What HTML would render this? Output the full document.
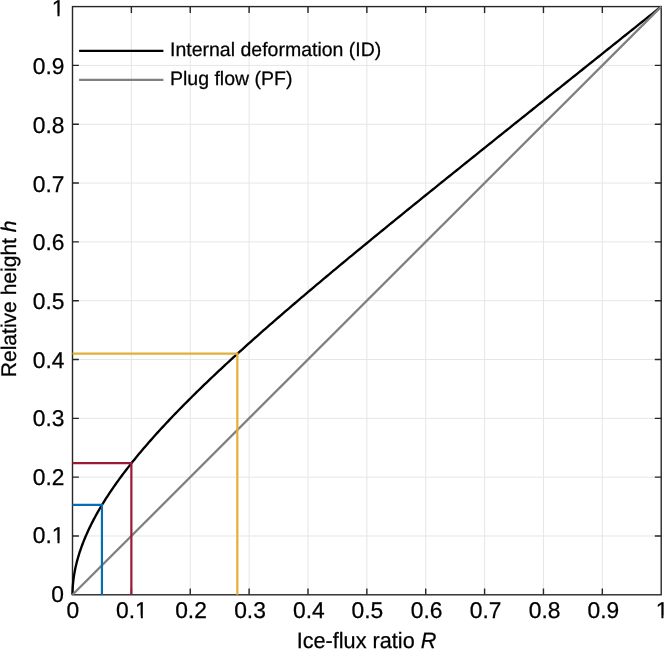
<!DOCTYPE html>
<html><head><meta charset="utf-8"><title>Ice-flux ratio</title>
<style>html,body{margin:0;padding:0;background:#fff;}body{width:664px;height:649px;position:relative;overflow:hidden;font-family:"Liberation Sans",sans-serif;}</style>
</head><body>
<svg width="664" height="649" viewBox="0 0 664 649" style="position:absolute;left:0;top:0;will-change:transform">
<rect width="664" height="649" fill="#fff"/>
<defs><clipPath id="c1_0"><rect x="133.09" y="595.20" width="17.68" height="20.40"/><rect x="140.82" y="615.30" width="2.02" height="3.70"/></clipPath><clipPath id="c1_1"><rect x="49.77" y="520.20" width="17.68" height="20.40"/><rect x="57.51" y="540.30" width="2.02" height="3.70"/></clipPath><clipPath id="c1_2"><rect x="653.70" y="595.20" width="17.68" height="20.40"/><rect x="661.43" y="615.30" width="2.02" height="3.70"/></clipPath><clipPath id="c1_3"><rect x="49.77" y="-6.80" width="17.68" height="20.40"/><rect x="57.51" y="13.30" width="2.02" height="3.70"/></clipPath></defs>
<path d="M131.37 6.60V594.80M72.50 535.98H661.20M190.24 6.60V594.80M72.50 477.16H661.20M249.11 6.60V594.80M72.50 418.34H661.20M307.98 6.60V594.80M72.50 359.52H661.20M366.85 6.60V594.80M72.50 300.70H661.20M425.72 6.60V594.80M72.50 241.88H661.20M484.59 6.60V594.80M72.50 183.06H661.20M543.46 6.60V594.80M72.50 124.24H661.20M602.33 6.60V594.80M72.50 65.42H661.20" stroke="#e6e6e6" stroke-width="1" fill="none"/>
<rect x="72.50" y="6.60" width="588.70" height="588.20" stroke="#262626" stroke-width="1.4" fill="none"/>
<path d="M131.37 594.80v-6.4M131.37 6.60v6.4M72.50 535.98h6.4M661.20 535.98h-6.4M190.24 594.80v-6.4M190.24 6.60v6.4M72.50 477.16h6.4M661.20 477.16h-6.4M249.11 594.80v-6.4M249.11 6.60v6.4M72.50 418.34h6.4M661.20 418.34h-6.4M307.98 594.80v-6.4M307.98 6.60v6.4M72.50 359.52h6.4M661.20 359.52h-6.4M366.85 594.80v-6.4M366.85 6.60v6.4M72.50 300.70h6.4M661.20 300.70h-6.4M425.72 594.80v-6.4M425.72 6.60v6.4M72.50 241.88h6.4M661.20 241.88h-6.4M484.59 594.80v-6.4M484.59 6.60v6.4M72.50 183.06h6.4M661.20 183.06h-6.4M543.46 594.80v-6.4M543.46 6.60v6.4M72.50 124.24h6.4M661.20 124.24h-6.4M602.33 594.80v-6.4M602.33 6.60v6.4M72.50 65.42h6.4M661.20 65.42h-6.4" stroke="#262626" stroke-width="1.4" fill="none"/>
<path d="M72.50 594.80L72.50 594.60L72.50 594.40L72.50 594.20L72.50 594.00L72.50 593.80L72.51 593.60L72.51 593.40L72.51 593.20L72.51 593.01L72.52 592.81L72.52 592.61L72.52 592.41L72.53 592.21L72.53 592.01L72.54 591.81L72.54 591.61L72.55 591.41L72.55 591.21L72.56 591.01L72.57 590.81L72.57 590.61L72.58 590.41L72.59 590.21L72.60 590.01L72.60 589.82L72.61 589.62L72.62 589.42L72.63 589.22L72.64 589.02L72.65 588.82L72.66 588.62L72.67 588.42L72.68 588.22L72.69 588.02L72.70 587.82L72.72 587.62L72.73 587.42L72.74 587.22L72.75 587.02L72.77 586.82L72.78 586.63L72.79 586.43L72.81 586.23L72.82 586.03L72.84 585.83L72.85 585.63L72.87 585.43L72.88 585.23L72.90 585.03L72.92 584.83L72.93 584.63L72.95 584.43L72.97 584.23L72.98 584.03L73.00 583.83L73.02 583.63L73.04 583.43L73.06 583.24L73.08 583.04L73.28 581.11L73.51 579.18L73.77 577.25L74.06 575.32L74.38 573.40L74.73 571.47L75.10 569.54L75.50 567.61L75.93 565.69L76.39 563.76L76.87 561.83L77.38 559.90L77.92 557.97L78.48 556.05L79.07 554.12L79.68 552.19L80.32 550.26L80.99 548.33L81.68 546.41L82.39 544.48L83.13 542.55L83.89 540.62L84.67 538.69L85.48 536.77L86.31 534.84L87.17 532.91L88.04 530.98L88.94 529.06L89.87 527.13L90.81 525.20L91.77 523.27L92.76 521.34L93.77 519.42L94.80 517.49L95.85 515.56L96.92 513.63L98.01 511.70L99.12 509.78L100.25 507.85L101.40 505.92L102.57 503.99L103.76 502.07L104.96 500.14L106.19 498.21L107.43 496.28L108.69 494.35L109.97 492.43L111.27 490.50L112.59 488.57L113.92 486.64L115.27 484.71L116.64 482.79L118.02 480.86L119.43 478.93L120.84 477.00L122.28 475.07L123.73 473.15L125.19 471.22L126.67 469.29L128.17 467.36L129.68 465.44L131.20 463.51L132.75 461.58L134.30 459.65L135.87 457.72L137.46 455.80L139.05 453.87L140.67 451.94L142.29 450.01L143.93 448.08L145.59 446.16L147.25 444.23L148.93 442.30L150.62 440.37L152.33 438.45L154.05 436.52L155.78 434.59L157.52 432.66L159.27 430.73L161.04 428.81L162.82 426.88L164.60 424.95L166.40 423.02L168.22 421.09L170.04 419.17L171.87 417.24L173.72 415.31L175.57 413.38L177.44 411.45L179.31 409.53L181.20 407.60L183.09 405.67L185.00 403.74L186.92 401.82L188.84 399.89L190.78 397.96L192.72 396.03L194.67 394.10L196.63 392.18L198.61 390.25L200.59 388.32L202.57 386.39L204.57 384.46L206.58 382.54L208.59 380.61L210.61 378.68L212.64 376.75L214.68 374.83L216.72 372.90L218.78 370.97L220.84 369.04L222.90 367.11L224.98 365.19L227.06 363.26L229.15 361.33L231.25 359.40L233.35 357.47L235.46 355.55L237.58 353.62L239.70 351.69L241.83 349.76L243.97 347.83L246.11 345.91L248.25 343.98L250.41 342.05L252.57 340.12L254.73 338.20L256.90 336.27L259.08 334.34L261.26 332.41L263.45 330.48L265.64 328.56L267.84 326.63L270.04 324.70L272.25 322.77L274.47 320.84L276.68 318.92L278.91 316.99L281.13 315.06L283.37 313.13L285.60 311.20L287.84 309.28L290.09 307.35L292.34 305.42L294.59 303.49L296.85 301.57L299.11 299.64L301.37 297.71L303.64 295.78L305.92 293.85L308.19 291.93L310.47 290.00L312.76 288.07L315.04 286.14L317.33 284.21L319.63 282.29L321.92 280.36L324.22 278.43L326.53 276.50L328.83 274.58L331.14 272.65L333.46 270.72L335.77 268.79L338.09 266.86L340.41 264.94L342.73 263.01L345.06 261.08L347.39 259.15L349.72 257.22L352.05 255.30L354.39 253.37L356.73 251.44L359.07 249.51L361.41 247.58L363.76 245.66L366.10 243.73L368.45 241.80L370.80 239.87L373.16 237.95L375.51 236.02L377.87 234.09L380.23 232.16L382.59 230.23L384.95 228.31L387.32 226.38L389.68 224.45L392.05 222.52L394.42 220.59L396.79 218.67L399.16 216.74L401.53 214.81L403.91 212.88L406.28 210.96L408.66 209.03L411.04 207.10L413.42 205.17L415.80 203.24L418.18 201.32L420.57 199.39L422.95 197.46L425.34 195.53L427.72 193.60L430.11 191.68L432.50 189.75L434.89 187.82L437.28 185.89L439.67 183.96L442.06 182.04L444.46 180.11L446.85 178.18L449.25 176.25L451.64 174.33L454.04 172.40L456.44 170.47L458.83 168.54L461.23 166.61L463.63 164.69L466.03 162.76L468.43 160.83L470.83 158.90L473.23 156.97L475.63 155.05L478.04 153.12L480.44 151.19L482.84 149.26L485.25 147.34L487.65 145.41L490.06 143.48L492.46 141.55L494.87 139.62L497.27 137.70L499.68 135.77L502.08 133.84L504.49 131.91L506.90 129.98L509.31 128.06L511.71 126.13L514.12 124.20L516.53 122.27L518.94 120.34L521.35 118.42L523.76 116.49L526.16 114.56L528.57 112.63L530.98 110.71L533.39 108.78L535.80 106.85L538.21 104.92L540.62 102.99L543.03 101.07L545.44 99.14L547.85 97.21L550.26 95.28L552.67 93.35L555.09 91.43L557.50 89.50L559.91 87.57L562.32 85.64L564.73 83.72L567.14 81.79L569.55 79.86L571.96 77.93L574.38 76.00L576.79 74.08L579.20 72.15L581.61 70.22L584.02 68.29L586.43 66.36L588.84 64.44L591.26 62.51L593.67 60.58L596.08 58.65L598.49 56.72L600.90 54.80L603.31 52.87L605.73 50.94L608.14 49.01L610.55 47.09L612.96 45.16L615.37 43.23L617.79 41.30L620.20 39.37L622.61 37.45L625.02 35.52L627.43 33.59L629.85 31.66L632.26 29.73L634.67 27.81L637.08 25.88L639.49 23.95L641.90 22.02L644.32 20.10L646.73 18.17L649.14 16.24L651.55 14.31L653.96 12.38L656.38 10.46L658.79 8.53L661.20 6.60" stroke="#000" stroke-width="2.35" fill="none" stroke-linejoin="round"/>
<path d="M72.50 594.80L661.20 6.60" stroke="#808080" stroke-width="2.3" fill="none"/>
<path d="M101.94 594.80V504.90H72.50" stroke="#0A6BB0" stroke-width="2.2" fill="none"/>
<path d="M131.37 594.80V463.20H72.50" stroke="#9A1A36" stroke-width="2.2" fill="none"/>
<path d="M237.34 594.80V353.60H72.50" stroke="#E2B038" stroke-width="2.2" fill="none"/>
<g font-family="Liberation Sans, sans-serif" font-size="22.8" fill="#000" stroke="#000" stroke-width="0.25" text-rendering="geometricPrecision">
<text x="66.41" y="618.00">0</text>
<text x="51.17" y="602.00">0</text>
<text x="116.07" y="618.00">0.</text>
<text x="135.09" y="618.00" clip-path="url(#c1_0)">1</text>
<text x="32.76" y="543.00">0.</text>
<text x="51.77" y="543.00" clip-path="url(#c1_1)">1</text>
<text x="175.17" y="618.00">0.2</text>
<text x="32.76" y="485.00">0.2</text>
<text x="234.19" y="618.00">0.3</text>
<text x="32.76" y="426.00">0.3</text>
<text x="293.09" y="618.00">0.4</text>
<text x="32.76" y="368.00">0.4</text>
<text x="351.51" y="618.00">0.5</text>
<text x="32.76" y="309.00">0.5</text>
<text x="410.73" y="618.00">0.6</text>
<text x="32.76" y="250.00">0.6</text>
<text x="469.75" y="618.00">0.7</text>
<text x="32.76" y="192.00">0.7</text>
<text x="528.77" y="618.00">0.8</text>
<text x="32.76" y="133.00">0.8</text>
<text x="587.59" y="618.00">0.9</text>
<text x="32.76" y="74.00">0.9</text>
<text x="655.70" y="618.00" clip-path="url(#c1_2)">1</text>
<text x="51.77" y="16.00" clip-path="url(#c1_3)">1</text>
<text transform="translate(366.50 647.50) scale(0.977 1)" font-size="22.2" text-anchor="middle">Ice-flux ratio <tspan font-style="italic">R</tspan></text>
<text transform="translate(16.00 298.85) rotate(-90) scale(0.993 1)" font-size="21.2" text-anchor="middle">Relative height <tspan font-style="italic">h</tspan></text>
</g>
<path d="M79.1 50.9H163.4" stroke="#000" stroke-width="2.35"/>
<path d="M79.1 79.9H163.4" stroke="#808080" stroke-width="2.3"/>
<g font-family="Liberation Sans, sans-serif" font-size="19.5" fill="#000" stroke="#000" stroke-width="0.25" text-rendering="geometricPrecision">
<text x="170.0" y="56.4">Internal deformation (ID)</text>
<text x="170.0" y="85.2">Plug flow (PF)</text>
</g>
</svg>
</body></html>
